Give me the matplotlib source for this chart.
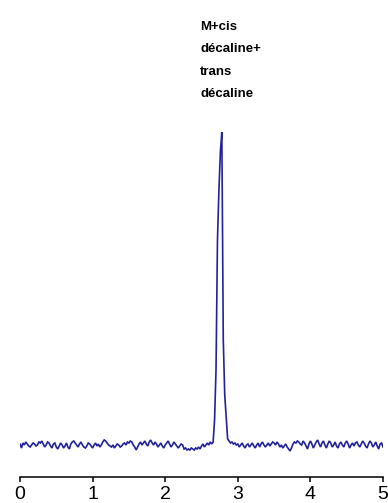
import numpy as np
import matplotlib
matplotlib.use("Agg")
import matplotlib.pyplot as plt

# Detector signal sampled every 0.02 min from 0 to 5
t_start, t_end, n_samples = 0.0, 5.0, 251
signal = [
    1, -3, 2, 0, 3, 1, -1, -2, 0, 2,
    1, -1, 0, 3, 2, 4, 1, -2, 0, 3,
    2, -1, -3, 1, 2, -2, -4, -1, 2, 0,
    -3, -1, 2, -2, -4, 1, 3, 4, 2, 0,
    -2, 1, 3, 0, -2, -3, -1, 2, 1, -1,
    -3, 0, 2, -1, 1, -2, 0, 3, 5, 4,
    2, 0, -1, -2, 0, -3, -1, 1, 0, -2,
    -1, 1, 2, 0, 3, 2, 4, 3, 0, -2,
    -5, -2, 1, 3, 0, 2, 4, 1, -1, 3,
    5, 2, 0, 3, 1, -2, 0, 2, -1, -3,
    0, 2, 4, 1, -2, 0, 3, 1, -1, -3,
    -1, 1, 0, -4, -3, -5, -4, -5, -3, -4,
    -5, -3, -4, -2, -4, -1, 1, -2, 0, 2,
    0, 3, 1, 3, 25, 75, 205, 255, 293, 313,
    105, 50, 28, 6, 4, 2, 3, 1, 2, 0,
    1, -2, 0, 2, -1, -3, 0, 1, -2, 0,
    2, -1, -3, 0, 2, -2, 1, 3, 0, -2,
    0, 2, -1, 1, 3, 2, 0, 3, 1, -2,
    0, -3, -1, 1, -2, -4, -6, -3, 1, 3,
    2, 4, 3, 1, 0, 4, 2, -1, -4, 1,
    4, 1, -3, 0, 3, 5, 1, -2, 2, 4,
    0, -3, 1, 4, 2, -2, 0, 3, -1, -3,
    1, 3, 0, -2, 2, 4, 1, -3, 0, 2,
    -1, 2, 3, 0, -2, 1, 4, 2, -1, -3,
    1, 4, 2, -2, 0, 3, -1, -4, 1, 2,
    -2,
]
time = np.linspace(t_start, t_end, n_samples)

x_ticks = [0, 1, 2, 3, 4, 5]
peak_label = "M+cis\ndécaline+\ntrans\ndécaline"
peak_label_pos = (2.48, 424)

fig = plt.figure(figsize=(3.88, 5.03), dpi=100)
ax = fig.add_axes([20 / 388, 26 / 503, 363 / 388, 477 / 503])

ax.plot(time, signal, color="#22229a", lw=1.2, solid_joinstyle="miter")

ax.set_xlim(0, 5)
ax.set_ylim(-32, 445)

for side in ("top", "right", "left"):
    ax.spines[side].set_visible(False)
ax.spines["bottom"].set_linewidth(1.1)
ax.set_yticks([])
ax.set_xticks(x_ticks)
ax.set_xticklabels([str(v) for v in x_ticks],
                   family=["Liberation Sans Narrow", "Liberation Sans", "DejaVu Sans"],
                   fontsize=14)
ax.tick_params(axis="x", direction="out", length=3.6, width=1.1, pad=2.8)
for lbl in ax.get_xticklabels():
    lbl.set_clip_on(False)

ax.text(peak_label_pos[0], peak_label_pos[1], peak_label,
        family=["Liberation Sans Narrow", "Liberation Sans", "DejaVu Sans"],
        fontweight="bold", fontsize=9.5, va="top", ha="left",
        linespacing=2.15, clip_on=False)

fig.savefig("out.png", dpi=100)
